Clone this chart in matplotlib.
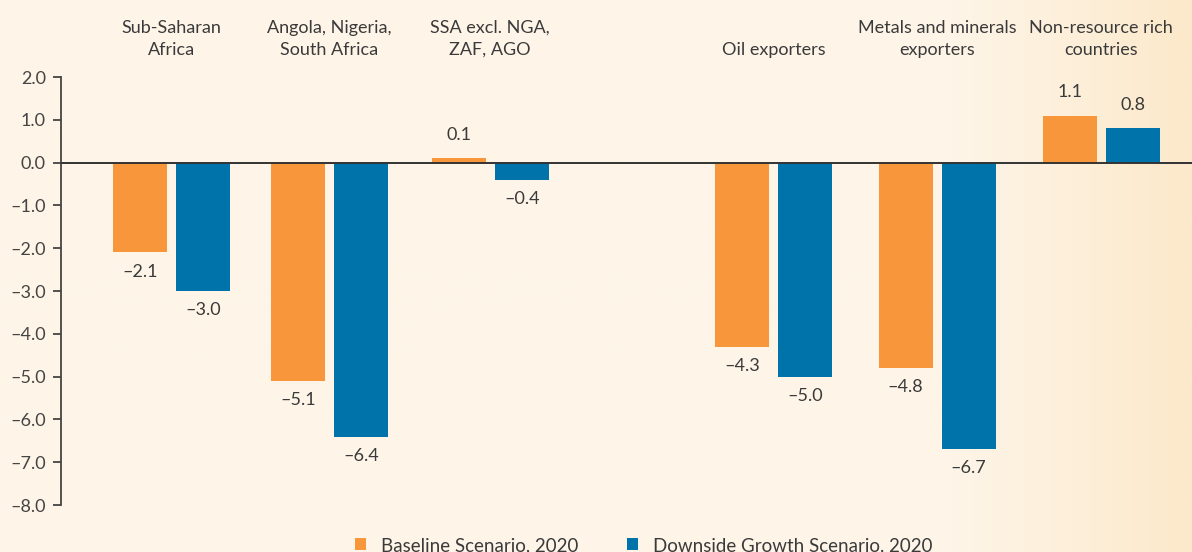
import numpy as np
import matplotlib.pyplot as plt
from matplotlib.colors import LinearSegmentedColormap

plt.rcParams['font.family'] = ['Lato', 'DejaVu Sans']

# Data
groups = ["Sub-Saharan\nAfrica", "Angola, Nigeria,\nSouth Africa", "SSA excl. NGA,\nZAF, AGO",
          "Oil exporters", "Metals and minerals\nexporters", "Non-resource rich\ncountries"]
baseline = [-2.1, -5.1, 0.1, -4.3, -4.8, 1.1]
downside = [-3.0, -6.4, -0.4, -5.0, -6.7, 0.8]
series_names = ["Baseline Scenario, 2020", "Downside Growth Scenario, 2020"]
yticks = [2.0, 1.0, 0.0, -1.0, -2.0, -3.0, -4.0, -5.0, -6.0, -7.0, -8.0]

orange = "#F7963B"
blue = "#0073AA"
txt = "#3a3a3a"

# group layout (gap between the first three and last three)
xpos = np.array([0, 0.98, 1.98, 3.74, 4.755, 5.775])
w = 0.335
off = 0.196

fig = plt.figure(figsize=(11.92, 5.52), dpi=100)

# background gradient
bg = fig.add_axes([0, 0, 1, 1], zorder=-10)
cmap = LinearSegmentedColormap.from_list("bg", [(0, "#FEF5E8"), (0.8, "#FEF5E8"), (1.0, "#FCE9CB")])
grad = np.linspace(0, 1, 512).reshape(1, -1)
bg.imshow(grad, aspect="auto", cmap=cmap, extent=[0, 1, 0, 1])
bg.axis("off")

ax = fig.add_axes([0.0512, 0.0851, 0.9488, 0.7754])
ax.patch.set_alpha(0)

b1 = ax.bar(xpos - off, baseline, w, color=orange, label=series_names[0])
b2 = ax.bar(xpos + off, downside, w, color=blue, label=series_names[1])

def fmt(v):
    return f"{v:.1f}".replace("-", "\u2013")

for bars, vals in [(b1, baseline), (b2, downside)]:
    for rect, v in zip(bars, vals):
        cx = rect.get_x() + rect.get_width() / 2
        if v < 0:
            ax.annotate(fmt(v), (cx, v), xytext=(0, -8), textcoords="offset points",
                        ha="center", va="top", fontsize=13, color=txt)
        else:
            ax.annotate(fmt(v), (cx, v), xytext=(0, 11), textcoords="offset points",
                        ha="center", va="bottom", fontsize=13, color=txt)

for x, g in zip(xpos, groups):
    ax.text(x, 2.45, g, ha="center", va="bottom", fontsize=13, color=txt,
            linespacing=1.45, clip_on=False)

ax.axhline(0, color="#333333", lw=1.4, zorder=3)
ax.set_ylim(-8, 2)
ax.set_xlim(-0.686, 6.338)
ax.set_yticks(yticks)
ax.set_yticklabels([fmt(t) for t in yticks], fontsize=13, color="#444444")
ax.tick_params(axis="y", direction="out", length=6, width=1.3, color="#444444", pad=5)
ax.set_xticks([])
for s in ["top", "right", "bottom"]:
    ax.spines[s].set_visible(False)
ax.spines["left"].set_color("#444444")
ax.spines["left"].set_linewidth(1.3)

fig.legend(handles=[b1, b2], labels=series_names, loc="center", bbox_to_anchor=(0.54, 0.012),
           ncol=2, frameon=False, fontsize=13.5, handlelength=0.6, handleheight=0.6,
           columnspacing=2.6, handletextpad=0.8, labelcolor=txt)

fig.savefig("out.png", dpi=100)
